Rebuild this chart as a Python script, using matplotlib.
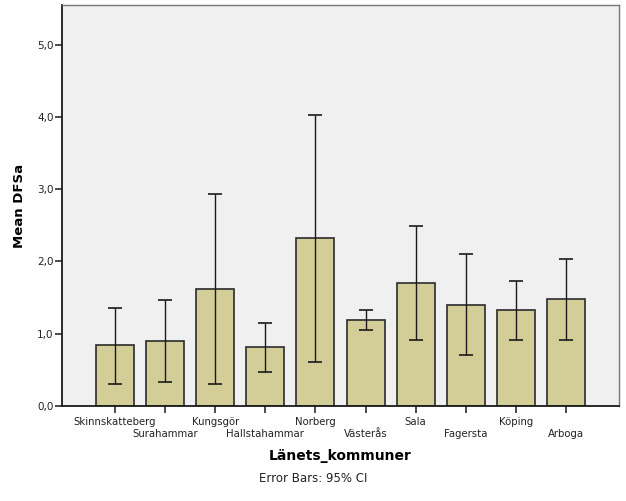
import numpy as np
import matplotlib
matplotlib.use("Agg")
import matplotlib.pyplot as plt

kommuner = ["Skinnskatteberg", "Surahammar", "Kungsgör", "Hallstahammar", "Norberg",
            "Västerås", "Sala", "Fagersta", "Köping", "Arboga"]
mean_dfsa = [0.84, 0.90, 1.625, 0.81, 2.32, 1.19, 1.70, 1.40, 1.325, 1.48]
ci_low = [0.31, 0.33, 0.31, 0.475, 0.61, 1.05, 0.91, 0.70, 0.92, 0.92]
ci_high = [1.35, 1.47, 2.94, 1.145, 4.03, 1.325, 2.49, 2.10, 1.73, 2.03]
yticks = [0, 1, 2, 3, 4, 5]
ytick_labels = ["0,0", "1,0", "2,0", "3,0", "4,0", "5,0"]

x = np.arange(len(kommuner))
mean_dfsa = np.array(mean_dfsa)
yerr = [mean_dfsa - np.array(ci_low), np.array(ci_high) - mean_dfsa]

fig = plt.figure(figsize=(6.26, 5.01), dpi=100)
ax = fig.add_axes([62/626, 95/501, 557/626, 401/501])
ax.set_facecolor("#f0f0f0")

ax.bar(x, mean_dfsa, width=0.76, color="#d3ce97", edgecolor="#2b2b2b", linewidth=1.2, zorder=2)
ax.errorbar(x, mean_dfsa, yerr=yerr, fmt="none", ecolor="#1a1a1a", elinewidth=1.0,
            capsize=4.7, capthick=1.2, zorder=3)

ax.set_xlim(-1.06, len(kommuner) - 1 + 1.06)
ax.set_ylim(0, 5.55)
ax.set_yticks(yticks)
ax.set_yticklabels(ytick_labels, fontsize=7.5, color="#222222")

ax.set_xticks(x)
ax.set_xticklabels(kommuner, fontsize=7.3, color="#222222")
ax.tick_params(axis="x", length=5, width=1.2, pad=3, color="#2b2b2b")
ax.tick_params(axis="y", length=5, width=1.2, pad=1, color="#2b2b2b")
# stagger the odd labels below the even ones, with longer ticks
for i, t in enumerate(ax.xaxis.get_major_ticks()):
    if i % 2 == 1:
        t.tick1line.set_markersize(13)
        t.set_pad(11.5)

for side in ["top", "right"]:
    ax.spines[side].set_color("#777777")
    ax.spines[side].set_linewidth(1.0)
for side in ["left", "bottom"]:
    ax.spines[side].set_color("#1a1a1a")
    ax.spines[side].set_linewidth(1.3)

ax.set_ylabel("Mean DFSa", fontsize=9.5, fontweight="bold", labelpad=8)
ax.set_xlabel("Länets_kommuner", fontsize=10, fontweight="bold", labelpad=7)
fig.text(313/626, 1 - 478/501, "Error Bars: 95% CI", fontsize=8.5, ha="center", va="center",
         color="#222222")

fig.savefig("out.png", dpi=100)
